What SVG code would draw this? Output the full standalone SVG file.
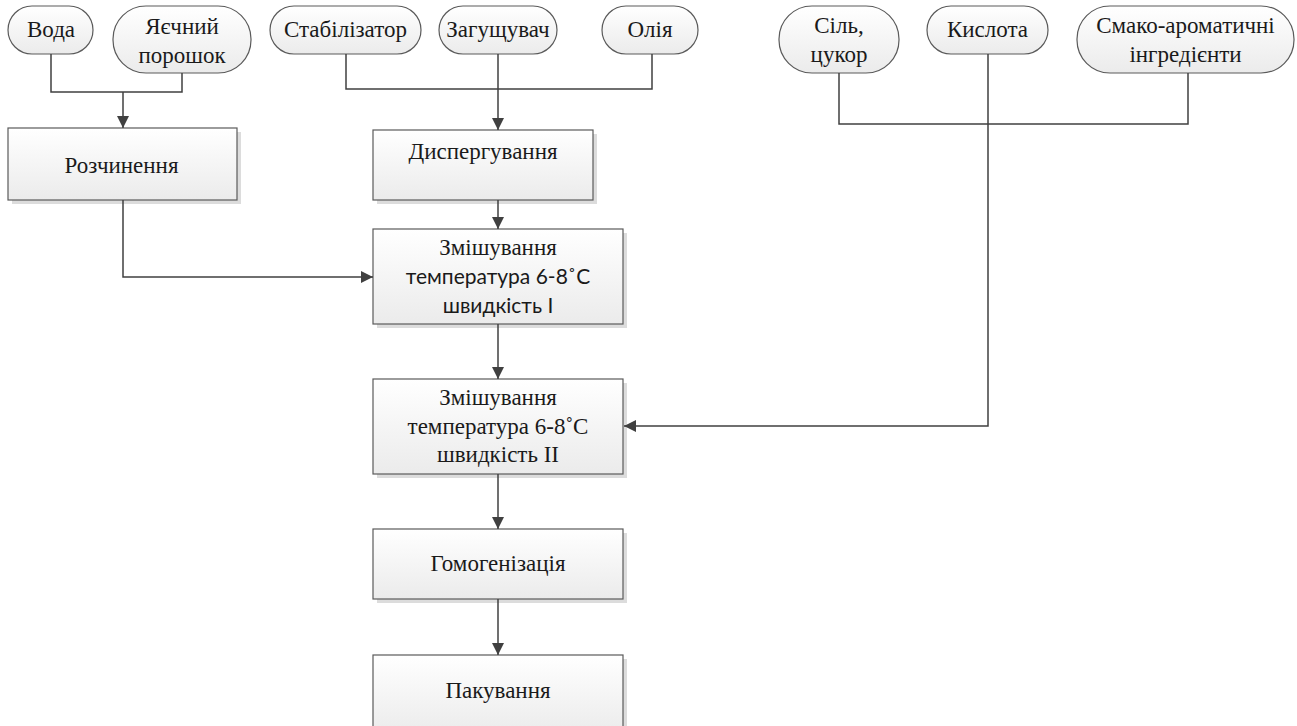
<svg xmlns="http://www.w3.org/2000/svg" width="1297" height="726" viewBox="0 0 1297 726">
<style>
.box{fill:url(#g);stroke:#5a5a5a;stroke-width:1.2}
.sh{fill:#dcdcdc}
text{fill:#1a1a1a;text-anchor:middle}
.t{font-family:'Liberation Serif','Tinos','Times New Roman','DejaVu Serif',serif;font-size:23px}
.s{font-family:Lato,'Liberation Sans',sans-serif;font-size:21px}
.c{fill:none;stroke:#404040;stroke-width:1.5}
</style>
<defs>
<linearGradient id="g" x1="0" y1="0" x2="0" y2="1"><stop offset="0" stop-color="#ffffff"/><stop offset="1" stop-color="#ebebeb"/></linearGradient>
<marker id="a" markerWidth="12" markerHeight="12" viewBox="0 0 12 12" refX="12" refY="6" orient="auto" markerUnits="userSpaceOnUse"><path d="M0,0 L12,6 L0,12 z" fill="#404040"/></marker>
</defs>
<rect width="1297" height="726" fill="#ffffff"/>
<g id="voda"><rect class="box" x="8" y="6" width="85" height="48" rx="24"/><text class="t" x="51" y="37">Вода</text></g>
<g id="poroshok"><rect class="box" x="113" y="6" width="138" height="67" rx="33"/><text class="t" x="182" y="34">Яєчний</text><text class="t" x="182" y="63">порошок</text></g>
<g id="stab"><rect class="box" x="270" y="6" width="151" height="48" rx="24"/><text class="t" x="345.5" y="37">Стабілізатор</text></g>
<g id="zag"><rect class="box" x="439" y="6" width="118" height="48" rx="24"/><text class="t" x="498" y="37">Загущувач</text></g>
<g id="oliya"><rect class="box" x="602" y="6" width="96" height="48" rx="24"/><text class="t" x="650" y="37">Олія</text></g>
<g id="sil"><rect class="box" x="779" y="6" width="120" height="67" rx="33"/><text class="t" x="839" y="33">Сіль,</text><text class="t" x="839" y="62">цукор</text></g>
<g id="kysl"><rect class="box" x="927" y="6" width="121" height="48" rx="24"/><text class="t" x="987.5" y="37">Кислота</text></g>
<g id="smak"><rect class="box" x="1077" y="6" width="217" height="67" rx="33"/><text class="t" x="1185.5" y="33">Смако-ароматичні</text><text class="t" x="1185.5" y="62">інгредієнти</text></g>

<g id="rozch"><rect class="sh" x="12" y="132" width="229" height="72"/><rect class="box" x="8" y="128" width="229" height="72"/><text class="t" x="121.5" y="173">Розчинення</text></g>
<g id="dysp"><rect class="sh" x="377" y="134" width="220" height="70"/><rect class="box" x="373" y="130" width="220" height="70"/><text class="t" x="483" y="159">Диспергування</text></g>
<g id="zm1"><rect class="sh" x="377" y="233" width="250" height="95"/><rect class="box" x="373" y="229" width="250" height="95"/><text class="t" x="498" y="255">Змішування</text><text class="s" x="498" y="284">температура 6-8˚C</text><text class="s" x="498" y="313">швидкість I</text></g>
<g id="zm2"><rect class="sh" x="377" y="383" width="250" height="95"/><rect class="box" x="373" y="379" width="250" height="95"/><text class="t" x="498" y="405">Змішування</text><text class="t" x="498" y="434">температура 6-8˚C</text><text class="t" x="498" y="462">швидкість II</text></g>
<g id="homo"><rect class="sh" x="377" y="533" width="250" height="70"/><rect class="box" x="373" y="529" width="250" height="70"/><text class="t" x="498" y="571">Гомогенізація</text></g>
<g id="pak"><rect class="sh" x="377" y="659" width="250" height="80"/><rect class="box" x="373" y="655" width="250" height="80"/><text class="t" x="498" y="698">Пакування</text></g>

<g id="connectors">
<path class="c" d="M51,54 V92 H182 V73"/>
<path class="c" d="M123,92 V128" marker-end="url(#a)"/>
<path class="c" d="M346,54 V89 H652 V54"/>
<path class="c" d="M498,54 V130" marker-end="url(#a)"/>
<path class="c" d="M123,200 V277 H373" marker-end="url(#a)"/>
<path class="c" d="M498,200 V229" marker-end="url(#a)"/>
<path class="c" d="M498,324 V379" marker-end="url(#a)"/>
<path class="c" d="M498,474 V529" marker-end="url(#a)"/>
<path class="c" d="M498,599 V655" marker-end="url(#a)"/>
<path class="c" d="M839,73 V124 H1188 V73"/>
<path class="c" d="M988,54 V426 H624" marker-end="url(#a)"/>
</g>
</svg>
